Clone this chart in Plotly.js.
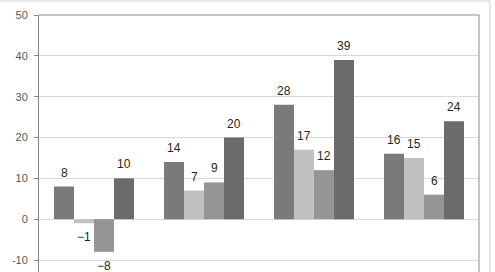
<!DOCTYPE html>
<html>
<head>
<meta charset="utf-8">
<script src="https://cdn.plot.ly/plotly-3.0.1.min.js"></script>
<style>html,body{margin:0;padding:0;background:#fff;}#chart{width:495px;height:272px;}</style>
</head>
<body>
<div id="chart"></div>
<script>
var groups = [0, 1, 2, 3];
var series1 = [8, 14, 28, 16];
var series2 = [-1, 7, 17, 15];
var series3 = [-8, 9, 12, 6];
var series4 = [10, 20, 39, 24];
var yTicks = [-10, 0, 10, 20, 30, 40, 50];

var seriesList = [series1, series2, series3, series4];
var colors = ['#7a7a7a', '#c0c0c0', '#959595', '#6b6b6b'];
var offsets = [-0.2727, -0.0909, 0.0909, 0.2727];

var traces = seriesList.map(function (s, k) {
  return {
    type: 'bar', x: groups, y: s,
    marker: {color: colors[k], line: {width: 0}},
    hoverinfo: 'none'
  };
});

var annotations = [];
seriesList.forEach(function (s, k) {
  s.forEach(function (v, i) {
    annotations.push({
      x: groups[i] + offsets[k], y: v, xref: 'x', yref: 'y',
      text: (v < 0 ? '\u2212' + Math.abs(v) : String(v)),
      showarrow: false,
      yanchor: v < 0 ? 'top' : 'bottom',
      yshift: v < 0 ? -5 : 5,
      font: {family: 'Liberation Sans, Arial, sans-serif', size: 12, color: '#262626'}
    });
  });
});

var layout = {
  width: 495, height: 272,
  margin: {l: 39, r: 16, t: 15, b: 0, pad: 0},
  paper_bgcolor: '#ffffff', plot_bgcolor: '#ffffff',
  showlegend: false,
  barmode: 'group', bargap: 0.2727, bargroupgap: 0,
  xaxis: {range: [-0.5, 3.5], showticklabels: false, showgrid: false, zeroline: false, ticks: '', fixedrange: true},
  yaxis: {
    range: [-12.94, 50], tickvals: yTicks, ticktext: yTicks.map(String),
    showgrid: true, gridcolor: '#d9d9d9', gridwidth: 1, zeroline: false,
    showline: true, linecolor: '#868686', linewidth: 1,
    ticks: 'outside', ticklen: 4, tickcolor: '#868686',
    tickfont: {family: 'Liberation Sans, Arial, sans-serif', size: 11, color: '#595959'},
    ticklabelstandoff: 4
  },
  annotations: annotations,
  shapes: [
    {type: 'line', xref: 'paper', yref: 'paper', x0: 0, x1: 1, y0: 1, y1: 1, line: {color: '#8c8c8c', width: 1}},
    {type: 'line', xref: 'paper', yref: 'paper', x0: 1, x1: 1, y0: 0, y1: 1, line: {color: '#8c8c8c', width: 1}},
    {type: 'line', xref: 'paper', yref: 'paper', x0: -0.09, x1: 1.025, y0: 1.0545, y1: 1.0545, line: {color: '#d0d0d0', width: 1}},
    {type: 'line', xref: 'paper', yref: 'paper', x0: 1.025, x1: 1.025, y0: 0, y1: 1.0545, line: {color: '#d0d0d0', width: 1}}
  ]
};

Plotly.newPlot('chart', traces, layout, {staticPlot: true, displayModeBar: false});
</script>
</body>
</html>
